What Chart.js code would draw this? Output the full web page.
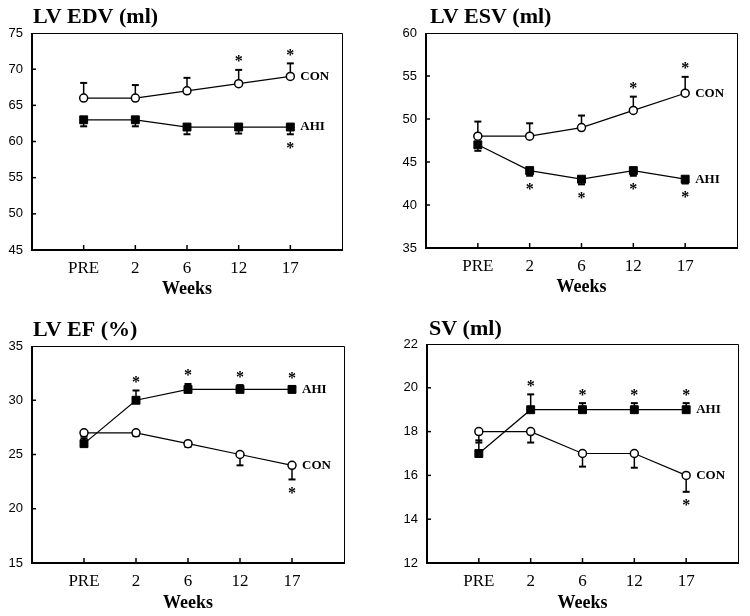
<!DOCTYPE html>
<html>
<head>
<meta charset="utf-8">
<script src="https://cdn.jsdelivr.net/npm/chart.js@4.4.1/dist/chart.umd.min.js"></script>
<style>
  body { margin: 0; background: #fff; }
  #wrap { position: relative; width: 750px; height: 616px; }
  #wrap canvas { position: absolute; }
</style>
</head>
<body>
<div id="wrap">
  <canvas id="edv" width="375" height="300" style="left:0;top:0"></canvas>
  <canvas id="esv" width="375" height="300" style="left:375px;top:0"></canvas>
  <canvas id="ef" width="375" height="316" style="left:0;top:300px"></canvas>
  <canvas id="sv" width="375" height="316" style="left:375px;top:300px"></canvas>
</div>
<script>
const weeks = ['PRE', '2', '6', '12', '17'];

// LV EDV (ml)
const edvTicks = [45, 50, 55, 60, 65, 70, 75];
const edvCon = [66, 66, 67, 68, 69];
const edvConErr = [2.1, 1.8, 1.8, 1.9, 1.8];
const edvConStar = [0, 0, 0, 1, 1];
const edvAhi = [63, 63, 62, 62, 62];
const edvAhiErr = [0.9, 0.9, 1.0, 0.9, 1.0];
const edvAhiStar = [0, 0, 0, 0, 1];

// LV ESV (ml)
const esvTicks = [35, 40, 45, 50, 55, 60];
const esvCon = [48, 48, 49, 51, 53];
const esvConErr = [1.7, 1.5, 1.4, 1.6, 1.9];
const esvConStar = [0, 0, 0, 1, 1];
const esvAhi = [47, 44, 43, 44, 43];
const esvAhiErr = [0.7, 0.6, 0.6, 0.6, 0.5];
const esvAhiStar = [0, 1, 1, 1, 1];

// LV EF (%)
const efTicks = [15, 20, 25, 30, 35];
const efAhi = [26, 30, 31, 31, 31];
const efAhiErr = [0.5, 0.9, 0.5, 0.4, 0.3];
const efAhiStar = [0, 1, 1, 1, 1];
const efCon = [27, 27, 26, 25, 24];
const efConErr = [0.3, 0.3, 0.3, 1.0, 1.3];
const efConStar = [0, 0, 0, 0, 1];

// SV (ml)
const svTicks = [12, 14, 16, 18, 20, 22];
const svAhi = [17, 19, 19, 19, 19];
const svAhiErr = [0.6, 0.7, 0.3, 0.3, 0.3];
const svAhiStar = [0, 1, 1, 1, 1];
const svCon = [18, 18, 17, 17, 16];
const svConErr = [0.5, 0.5, 0.6, 0.65, 0.75];
const svConStar = [0, 0, 0, 0, 1];

const SERIF = '"Liberation Serif", "Times New Roman", serif';
const SANS = '"Liberation Sans", Arial, sans-serif';

// error bars, stars, series names, box, inward ticks and panel title
const decor = {
    id: 'decor',
    beforeDatasetsDraw(chart) {
        const ctx = chart.ctx;
        const xs = chart.scales.x, ys = chart.scales.y;
        ctx.save();
        ctx.strokeStyle = '#000';
        chart.data.datasets.forEach(ds => {
            ds.data.forEach((p, i) => {
                const x = xs.getPixelForValue(p.x);
                const y0 = ys.getPixelForValue(p.y);
                const y1 = ys.getPixelForValue(p.y + ds.errDir * ds.err[i]);
                ctx.lineWidth = 1.5;
                ctx.beginPath();
                ctx.moveTo(x, y0);
                ctx.lineTo(x, y1);
                ctx.stroke();
                ctx.lineWidth = 2;
                ctx.beginPath();
                ctx.moveTo(x - 3.5, y1);
                ctx.lineTo(x + 3.5, y1);
                ctx.stroke();
            });
        });
        ctx.restore();
    },
    afterDatasetsDraw(chart) {
        const ctx = chart.ctx;
        const xs = chart.scales.x, ys = chart.scales.y;
        ctx.save();
        ctx.fillStyle = '#000';
        chart.data.datasets.forEach(ds => {
            ctx.font = 'bold 16px ' + SERIF;
            ctx.textAlign = 'center';
            ctx.textBaseline = 'alphabetic';
            const m = ctx.measureText('*');
            const shift = (m.actualBoundingBoxAscent - m.actualBoundingBoxDescent) / 2;
            ds.data.forEach((p, i) => {
                if (!ds.stars[i]) return;
                const x = xs.getPixelForValue(p.x);
                const yEnd = ys.getPixelForValue(p.y + ds.errDir * ds.err[i]);
                const cy = yEnd - ds.errDir * 11;
                ctx.fillText('*', x, cy + shift);
            });
            const last = ds.data[ds.data.length - 1];
            ctx.font = 'bold 13px ' + SERIF;
            ctx.textAlign = 'left';
            ctx.textBaseline = 'middle';
            ctx.fillText(ds.label, xs.getPixelForValue(last.x) + 10, ys.getPixelForValue(last.y));
        });
        ctx.restore();
    },
    afterDraw(chart, args, opts) {
        const ctx = chart.ctx;
        const {left, right, top, bottom} = chart.chartArea;
        const xs = chart.scales.x, ys = chart.scales.y;
        ctx.save();
        ctx.strokeStyle = '#000';
        ctx.lineWidth = 1;
        ctx.beginPath();
        ctx.moveTo(left, top + 0.5);
        ctx.lineTo(right + 0.5, top + 0.5);
        ctx.lineTo(right + 0.5, bottom);
        ctx.stroke();
        ctx.lineWidth = 2;
        ctx.beginPath();
        ctx.moveTo(left, top);
        ctx.lineTo(left, bottom);
        ctx.lineTo(right + 1, bottom);
        ctx.stroke();

        ctx.lineWidth = 1.5;
        weeks.forEach((w, i) => {
            const x = xs.getPixelForValue(i);
            ctx.beginPath();
            ctx.moveTo(x, bottom);
            ctx.lineTo(x, bottom - 5);
            ctx.stroke();
        });
        ys.ticks.forEach(t => {
            if (t.value === ys.min || t.value === ys.max) return;
            const y = ys.getPixelForValue(t.value);
            ctx.beginPath();
            ctx.moveTo(left, y);
            ctx.lineTo(left + 4, y);
            ctx.stroke();
        });

        ctx.fillStyle = '#000';
        ctx.font = 'bold 22px ' + SERIF;
        ctx.textAlign = 'left';
        ctx.textBaseline = 'alphabetic';
        ctx.fillText(opts.title, opts.titleX, opts.titleY);
        ctx.restore();
    }
};

function series(label, values, err, errDir, stars, filled) {
    return {
        label: label,
        data: values.map((v, i) => ({x: i, y: v})),
        err: err,
        errDir: errDir,
        stars: stars,
        borderColor: '#000',
        borderWidth: 1.2,
        pointStyle: filled ? 'rect' : 'circle',
        pointRadius: filled ? 5.6 : 4,
        pointBorderWidth: filled ? 1 : 1.5,
        pointBackgroundColor: filled ? '#000' : '#fff',
        pointBorderColor: '#000',
        tension: 0,
        clip: false,
        order: filled ? 2 : 1
    };
}

function makePanel(id, title, titlePos, area, xh, ticks, datasets) {
    const canvas = document.getElementById(id);
    const w = canvas.width, h = canvas.height;
    return new Chart(canvas, {
        type: 'line',
        data: {datasets: datasets},
        options: {
            responsive: false,
            animation: false,
            layout: {
                padding: {left: 0, top: area.top, right: w - area.right, bottom: h - area.bottom - xh}
            },
            plugins: {
                legend: {display: false},
                tooltip: {enabled: false},
                decor: {title: title, titleX: titlePos[0], titleY: titlePos[1]}
            },
            scales: {
                x: {
                    type: 'linear',
                    min: -1,
                    max: 5,
                    grid: {display: false, drawTicks: false},
                    border: {display: false},
                    ticks: {
                        stepSize: 1,
                        autoSkip: false,
                        maxRotation: 0,
                        padding: 8,
                        color: '#000',
                        font: {family: SERIF, size: 17},
                        callback: v => weeks[v] ?? ''
                    },
                    title: {
                        display: true,
                        text: 'Weeks',
                        color: '#000',
                        padding: 0,
                        font: {family: SERIF, size: 18, weight: 'bold'}
                    },
                    afterFit: s => { s.height = xh; }
                },
                y: {
                    min: ticks[0],
                    max: ticks[ticks.length - 1],
                    grid: {display: false, drawTicks: false},
                    border: {display: false},
                    ticks: {
                        stepSize: ticks[1] - ticks[0],
                        padding: 9,
                        color: '#000',
                        font: {family: SANS, size: 13}
                    },
                    afterFit: s => { s.width = area.left; }
                }
            }
        },
        plugins: [decor]
    });
}

makePanel('edv', 'LV EDV (ml)', [33, 23], {left: 32, top: 33, right: 342, bottom: 250}, 50, edvTicks, [
    series('CON', edvCon, edvConErr, 1, edvConStar, false),
    series('AHI', edvAhi, edvAhiErr, -1, edvAhiStar, true)
]);
makePanel('esv', 'LV ESV (ml)', [55, 23], {left: 51, top: 33, right: 362, bottom: 248}, 50, esvTicks, [
    series('CON', esvCon, esvConErr, 1, esvConStar, false),
    series('AHI', esvAhi, esvAhiErr, -1, esvAhiStar, true)
]);
makePanel('ef', 'LV EF (%)', [33, 36], {left: 32, top: 46, right: 344, bottom: 263}, 51, efTicks, [
    series('AHI', efAhi, efAhiErr, 1, efAhiStar, true),
    series('CON', efCon, efConErr, -1, efConStar, false)
]);
makePanel('sv', 'SV (ml)', [54, 35], {left: 52, top: 44, right: 363, bottom: 263}, 51, svTicks, [
    series('AHI', svAhi, svAhiErr, 1, svAhiStar, true),
    series('CON', svCon, svConErr, -1, svConStar, false)
]);
</script>
</body>
</html>
